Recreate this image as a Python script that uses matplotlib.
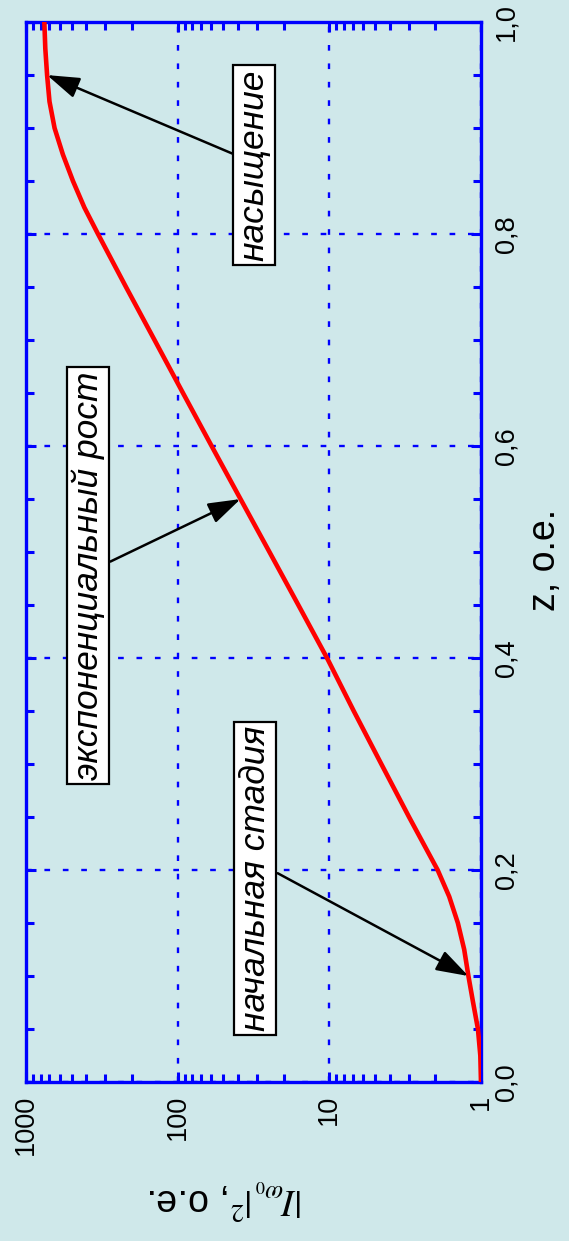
import matplotlib
matplotlib.use('Agg')
import matplotlib.pyplot as plt
from matplotlib.ticker import FixedLocator, MultipleLocator, LogLocator, NullFormatter

plt.rcParams['font.family'] = ['Liberation Sans', 'DejaVu Sans']
plt.rcParams['mathtext.fontset'] = 'stix'

# longitudinal coordinate z (o.e.) and intensity |I_w0|^2 (o.e.)
z = [0.0, 0.025, 0.05, 0.075, 0.1, 0.125, 0.15, 0.175, 0.2, 0.25, 0.3, 0.35,
     0.4, 0.45, 0.5, 0.55, 0.6, 0.65, 0.7, 0.75, 0.8, 0.825, 0.85, 0.875,
     0.9, 0.925, 0.95, 0.975, 1.0]
intensity = [1.0, 1.01, 1.047, 1.127, 1.21, 1.29, 1.42, 1.62, 1.93, 2.98,
             4.54, 6.9, 10.35, 16.0, 24.8, 38.5, 59.7, 92.2, 142.0, 219.0,
             335.0, 412.0, 490.0, 571.0, 648.0, 700.0, 726.0, 746.0, 757.0]

i_ticks = [1, 10, 100, 1000]
i_labels = ['1', '10', '100', '1000']
z_ticks = [0.0, 0.2, 0.4, 0.6, 0.8, 1.0]
z_labels = ['0,0', '0,2', '0,4', '0,6', '0,8', '1,0']

stage_labels = ['начальная стадия', 'экспоненциальный рост', 'насыщение']
stage_points = [0.1, 0.55, 0.95]

bg = '#cfe8ea'
blue = '#0000ff'

fig = plt.figure(figsize=(5.69, 12.41), dpi=100, facecolor=bg)
ax = fig.add_axes([0.0457, 0.1281, 0.7996, 0.8541], facecolor=bg)

# the plot is laid out sideways: z runs upward, intensity runs leftward
ax.plot(intensity, z, color='#ff0000', lw=3.3, solid_joinstyle='round', zorder=3)

ax.set_xscale('log')
ax.set_xlim(1000, 1)
ax.set_ylim(0, 1)

ax.xaxis.set_major_locator(FixedLocator(i_ticks))
ax.set_xticklabels(i_labels, rotation=90, va='top', ha='center')
ax.xaxis.set_minor_locator(LogLocator(base=10, subs=range(2, 10)))
ax.xaxis.set_minor_formatter(NullFormatter())

ax.yaxis.set_major_locator(FixedLocator(z_ticks))
ax.set_yticklabels(z_labels, rotation=90, va='center', ha='left')
ax.yaxis.set_minor_locator(MultipleLocator(0.05))

ax.tick_params(axis='both', which='both', direction='in', color=blue,
               width=2.2, labelsize=19.5, labelcolor='black')
ax.tick_params(axis='both', which='major', length=7)
ax.tick_params(axis='both', which='minor', length=6)
ax.tick_params(axis='x', which='both', top=True, bottom=True, pad=9)
ax.tick_params(axis='y', which='both', left=True, right=True,
               labelleft=False, labelright=True, pad=9)

for sp in ax.spines.values():
    sp.set_color(blue)
    sp.set_linewidth(2.4)

ax.grid(which='major', color=blue, linestyle=(0, (2.4, 5.4)), linewidth=1.7)
ax.set_axisbelow(True)

box = dict(boxstyle='square,pad=0.12', fc='white', ec='black', lw=1.6)
arrow = dict(arrowstyle='-|>,head_length=1.1,head_width=0.36', color='black',
             lw=1.8, mutation_scale=18, shrinkA=0, shrinkB=0)

ax.text(30.8, 0.192, stage_labels[0], rotation=90, fontsize=25.5,
        style='italic', ha='center', va='center', bbox=box, zorder=5)
ax.text(388, 0.478, stage_labels[1], rotation=90, fontsize=25.5,
        style='italic', ha='center', va='center', bbox=box, zorder=5)
ax.text(31.3, 0.865, stage_labels[2], rotation=90, fontsize=25.5,
        style='italic', ha='center', va='center', bbox=box, zorder=5)

starts = [(21.9, 0.197), (278, 0.491), (43.7, 0.876)]
for zp, start in zip(stage_points, starts):
    k = z.index(zp)
    ax.annotate('', xy=(intensity[k], z[k]), xytext=start,
                arrowprops=arrow, zorder=4)

fig.text(545 / 569, 1 - 560 / 1241, 'z, о.е.', rotation=90, fontsize=27,
         ha='center', va='center')
fig.text(226 / 569, 1 - 1200 / 1241, r'$|I_{\omega_0}|^2$, о.е.',
         rotation=180, fontsize=27, ha='center', va='center')

fig.savefig('out.png', dpi=100, facecolor=bg)
